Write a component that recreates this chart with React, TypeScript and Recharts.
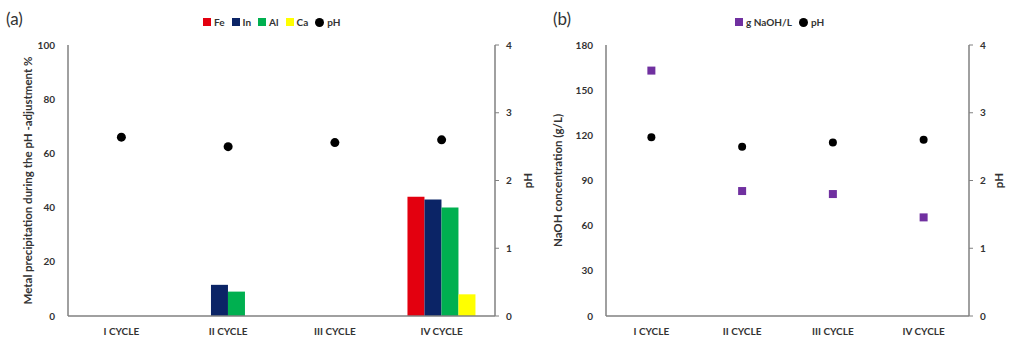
import React from "react";
import {
  ComposedChart,
  Bar,
  Line,
  XAxis,
  YAxis,
} from "recharts";

const cycles = ["I CYCLE", "II CYCLE", "III CYCLE", "IV CYCLE"];
const fe = [0, 0, 0, 44];
const indium = [0, 11.5, 0, 43];
const al = [0, 9, 0, 40];
const ca = [0, 0, 0, 8];
const ph = [2.64, 2.5, 2.56, 2.6];
const naoh = [163, 83, 81, 65.5];

const metalTicks = [0, 20, 40, 60, 80, 100];
const naohTicks = [0, 30, 60, 90, 120, 150, 180];
const phTicks = [0, 1, 2, 3, 4];

const FONT = "Lato, 'Open Sans', sans-serif";
const AXIS = "#808080";

const metals = [
  { key: "fe", name: "Fe", color: "#e3000f" },
  { key: "in", name: "In", color: "#0b2466" },
  { key: "al", name: "Al", color: "#00b050" },
  { key: "ca", name: "Ca", color: "#ffff00" },
];

const dataA = cycles.map((c, i) => ({
  cycle: c,
  fe: fe[i],
  in: indium[i],
  al: al[i],
  ca: ca[i],
  ph: ph[i],
}));

const dataB = cycles.map((c, i) => ({ cycle: c, naoh: naoh[i], ph: ph[i] }));

const tick = { fontFamily: FONT, fontSize: 10, fontWeight: 700, fill: "#333" };

// rotated axis title, placed relative to the axis box
function axisTitle(text: string, dx: number) {
  return (p: any) => {
    const vb = p.viewBox || {};
    const x = vb.x + dx;
    const y = vb.y + vb.height / 2;
    return (
      <text
        x={x}
        y={y}
        transform={`rotate(-90 ${x} ${y})`}
        textAnchor="middle"
        dominantBaseline="central"
        fontFamily={FONT}
        fontSize={11.5}
        fontWeight={700}
        fill="#333"
      >
        {text}
      </text>
    );
  };
}

type LegendItem = { name: string; color: string; shape: "square" | "circle" };

function HtmlLegend({ items, left, top }: { items: LegendItem[]; left: number; top: number }) {
  return (
    <div
      style={{
        position: "absolute",
        left,
        top,
        display: "flex",
        alignItems: "center",
        gap: 7,
        fontFamily: FONT,
        fontSize: 10,
        fontWeight: 700,
        color: "#333",
      }}
    >
      {items.map((it) => (
        <span key={it.name} style={{ display: "flex", alignItems: "center", gap: 3 }}>
          <span
            style={{
              width: it.shape === "circle" ? 9 : 8,
              height: it.shape === "circle" ? 9 : 8,
              background: it.color,
              borderRadius: it.shape === "circle" ? "50%" : 0,
              display: "inline-block",
            }}
          />
          {it.name}
        </span>
      ))}
    </div>
  );
}

const PhDot = (r: number) => (p: any) =>
  <circle key={`ph-${p.index}`} cx={p.cx} cy={p.cy} r={r} fill="#000" />;

const SquareDot = (p: any) => (
  <rect key={`na-${p.index}`} x={p.cx - 4} y={p.cy - 4} width={8} height={8} fill="#7030a0" />
);

export default function App() {
  return (
    <div
      style={{
        position: "absolute",
        left: 0,
        top: 0,
        width: 1014,
        height: 342,
        background: "#fff",
        overflow: "hidden",
      }}
    >
      <div style={{ position: "absolute", left: 6, top: 8, fontFamily: FONT, fontSize: 17, color: "#333" }}>
        (a)
      </div>
      <div style={{ position: "absolute", left: 553, top: 8, fontFamily: FONT, fontSize: 17, color: "#333" }}>
        (b)
      </div>

      <HtmlLegend
        left={203}
        top={16}
        items={[
          ...metals.map((m) => ({ name: m.name, color: m.color, shape: "square" as const })),
          { name: "pH", color: "#000", shape: "circle" },
        ]}
      />
      <HtmlLegend
        left={735}
        top={16}
        items={[
          { name: "g NaOH/L", color: "#7030a0", shape: "square" },
          { name: "pH", color: "#000", shape: "circle" },
        ]}
      />

      <div style={{ position: "absolute", left: 0, top: 0 }}>
        <ComposedChart
          width={540}
          height={342}
          data={dataA}
          margin={{ top: 45, right: 0, left: 28, bottom: 0 }}
          barCategoryGap="18%"
          barGap={0}
        >
          <XAxis
            dataKey="cycle"
            height={26}
            tick={tick}
            tickLine={false}
            tickSize={0}
            tickMargin={12}
            axisLine={{ stroke: AXIS, strokeWidth: 1.5 }}
          />
          <YAxis
            yAxisId="m"
            width={40}
            domain={[0, 100]}
            ticks={metalTicks}
            tick={tick}
            tickLine={false}
            tickSize={0}
            tickMargin={13}
            axisLine={{ stroke: AXIS, strokeWidth: 1.5 }}
            label={axisTitle("Metal precipitation during the pH -adjustment %", -1)}
          />
          <YAxis
            yAxisId="ph"
            orientation="right"
            width={45}
            domain={[0, 4]}
            ticks={phTicks}
            tick={tick}
            tickLine={{ stroke: AXIS }}
            tickSize={4}
            tickMargin={7}
            axisLine={{ stroke: AXIS, strokeWidth: 1.5 }}
            label={axisTitle("pH", 32)}
          />
          {metals.map((m) => (
            <Bar
              key={m.key}
              yAxisId="m"
              dataKey={m.key}
              name={m.name}
              fill={m.color}
              isAnimationActive={false}
            />
          ))}
          <Line
            yAxisId="ph"
            dataKey="ph"
            stroke="none"
            dot={PhDot(4.5)}
            activeDot={false}
            isAnimationActive={false}
          />
        </ComposedChart>
      </div>

      <div style={{ position: "absolute", left: 540, top: 0 }}>
        <ComposedChart
          width={474}
          height={342}
          data={dataB}
          margin={{ top: 45, right: 0, left: 10, bottom: 0 }}
        >
          <XAxis
            dataKey="cycle"
            scale="band"
            height={26}
            tick={tick}
            tickLine={false}
            tickSize={0}
            tickMargin={12}
            axisLine={{ stroke: AXIS, strokeWidth: 1.5 }}
          />
          <YAxis
            yAxisId="n"
            width={56}
            domain={[0, 180]}
            ticks={naohTicks}
            tick={tick}
            tickLine={false}
            tickSize={0}
            tickMargin={13}
            axisLine={{ stroke: AXIS, strokeWidth: 1.5 }}
            label={axisTitle("NaOH concentration (g/L)", 7)}
          />
          <YAxis
            yAxisId="ph"
            orientation="right"
            width={45}
            domain={[0, 4]}
            ticks={phTicks}
            tick={tick}
            tickLine={{ stroke: AXIS }}
            tickSize={4}
            tickMargin={7}
            axisLine={{ stroke: AXIS, strokeWidth: 1.5 }}
            label={axisTitle("pH", 29)}
          />
          <Line
            yAxisId="n"
            dataKey="naoh"
            stroke="none"
            dot={SquareDot}
            activeDot={false}
            isAnimationActive={false}
          />
          <Line
            yAxisId="ph"
            dataKey="ph"
            stroke="none"
            dot={PhDot(4)}
            activeDot={false}
            isAnimationActive={false}
          />
        </ComposedChart>
      </div>
    </div>
  );
}
